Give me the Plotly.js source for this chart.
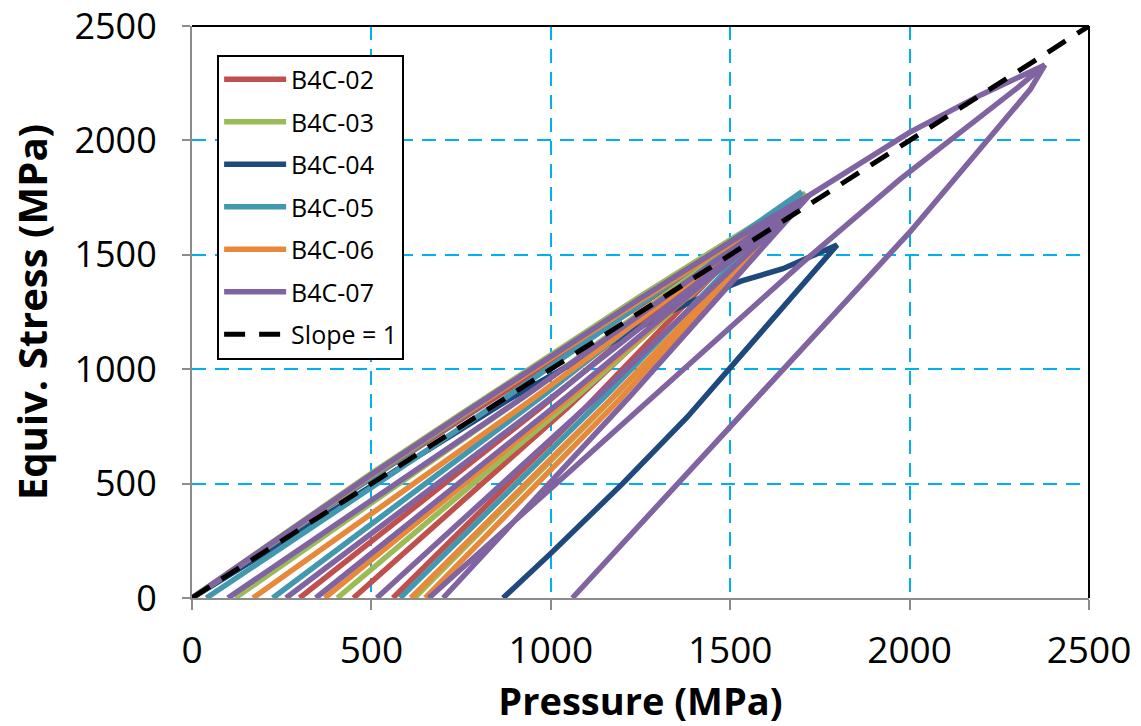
<!DOCTYPE html>
<html>
<head>
<meta charset="utf-8">
<script src="https://cdn.plot.ly/plotly-3.0.1.min.js"></script>
<style>
  html, body { margin: 0; padding: 0; background: #ffffff; }
  #chart { width: 1141px; height: 726px; }
</style>
</head>
<body>
<div id="chart"></div>
<script>
// ---- Data ----
const seriesNames = ["B4C-02", "B4C-03", "B4C-04", "B4C-05", "B4C-06", "B4C-07"];

// B4C-02: loading to peak, then unload/reload branches
const b4c02_x = [0, 250, 500, 750, 1000, 1250, 1450, 1600, 970, 300, 970, 1600, 1045, 450, 1045, 1600, 1095, 560];
const b4c02_y = [0, 265, 525, 780, 1030, 1280, 1490, 1650, 830, 0, 830, 1650, 830, 0, 830, 1650, 830, 0];

// B4C-03
const b4c03_x = [0, 250, 500, 750, 1000, 1250, 1500, 1710, 930, 120, 930, 1710, 1075, 405, 1075, 1710, 1180, 620];
const b4c03_y = [0, 275, 545, 805, 1065, 1320, 1565, 1770, 885, 0, 885, 1770, 885, 0, 885, 1770, 885, 0];

// B4C-04: single loading path with softening, then unloading
const b4c04_x = [0, 300, 600, 886, 1100, 1304, 1400, 1530, 1647, 1798, 1380, 1200, 1000, 867];
const b4c04_y = [0, 290, 590, 870, 1060, 1230, 1300, 1385, 1439, 1543, 790, 500, 195, 0];

// B4C-05
const b4c05_x = [0, 250, 500, 750, 1000, 1250, 1500, 1700, 885, 40, 885, 1700, 980, 225, 980, 1700, 1155, 580];
const b4c05_y = [0, 265, 530, 790, 1050, 1305, 1555, 1775, 887, 0, 887, 1775, 887, 0, 887, 1775, 887, 0];

// B4C-06
const b4c06_x = [0, 250, 500, 750, 1000, 1250, 1500, 1690, 945, 170, 945, 1690, 1045, 370, 1045, 1690, 1165, 610, 1165, 1690, 1190, 650];
const b4c06_y = [0, 270, 535, 795, 1050, 1300, 1545, 1730, 865, 0, 865, 1730, 865, 0, 865, 1730, 865, 0, 865, 1730, 865, 0];

// B4C-07: cycles to ~1750, final loading to ~2330, two unloading branches
const b4c07_x = [0, 250, 500, 750, 1000, 1250, 1500, 1720, 925, 100, 925, 1720, 1005, 262, 1005, 1720, 1045, 345, 1045, 1720, 1130, 515, 1130, 1720, 1220, 700, 1220, 1720,
                 2000, 2200, 2377, 2308, 1973, 1695, 1332, 858, 660, null,
                 1060, 1500, 1834, 2001, 2336, 2377];
const b4c07_y = [0, 272, 540, 800, 1058, 1310, 1555, 1760, 880, 0, 880, 1760, 880, 0, 880, 1760, 880, 0, 880, 1760, 880, 0, 880, 1760, 880, 0, 880, 1760,
                 2035, 2200, 2330, 2239, 1830, 1457, 948, 283, 0, null,
                 0, 745, 1310, 1600, 2222, 2330];

// Slope = 1 reference line
const slope_x = [0, 2500];
const slope_y = [0, 2500];

const tickVals = [0, 500, 1000, 1500, 2000, 2500];
const tickText = ["0", "500", "1000", "1500", "2000", "2500"];

// ---- Styling ----
const colors = ["#C0504D", "#9BBB59", "#1F497D", "#4198AF", "#E8883A", "#8064A2"];
const xs = [b4c02_x, b4c03_x, b4c04_x, b4c05_x, b4c06_x, b4c07_x];
const ys = [b4c02_y, b4c03_y, b4c04_y, b4c05_y, b4c06_y, b4c07_y];

const traces = seriesNames.map((name, i) => ({
  x: xs[i], y: ys[i], name: name, type: "scatter", mode: "lines",
  line: { color: colors[i], width: 5.5 },
  connectgaps: false, legendgroup: "g" + i
}));
traces.push({
  x: slope_x, y: slope_y, name: "Slope = 1", type: "scatter", mode: "lines",
  line: { color: "#000000", width: 5, dash: "21px,14px" }, legendgroup: "g6"
});

const gridStyle = { gridcolor: "#00B0F0", gridwidth: 2, griddash: "14px,9px" };
const font = "Open Sans, DejaVu Sans, sans-serif";

const layout = {
  width: 1141, height: 726,
  margin: { l: 192, r: 52, t: 26, b: 128 },
  paper_bgcolor: "#ffffff", plot_bgcolor: "#ffffff",
  showlegend: true,
  xaxis: Object.assign({
    range: [0, 2500], tickvals: tickVals, ticktext: tickText,
    showline: true, linecolor: "#8C8C8C", linewidth: 2,
    ticks: "outside", ticklen: 10, tickwidth: 2, tickcolor: "#8C8C8C",
    ticklabelstandoff: 9, ticklabeloverflow: "allow",
    zeroline: false, tickfont: { family: font, size: 37, color: "#000" },
    title: { text: "Pressure (MPa)", font: { family: font, size: 38, color: "#000", weight: "bold" }, standoff: 8 }
  }, gridStyle),
  yaxis: Object.assign({
    range: [0, 2500], tickvals: tickVals, ticktext: tickText,
    showline: true, linecolor: "#8C8C8C", linewidth: 2,
    ticks: "outside", ticklen: 8, tickwidth: 2, tickcolor: "#8C8C8C",
    ticklabelstandoff: 18, ticklabeloverflow: "allow",
    zeroline: false, tickfont: { family: font, size: 36, color: "#000" },
    title: { text: "Equiv. Stress (MPa)", font: { family: font, size: 40, color: "#000", weight: "bold" }, standoff: 14 }
  }, gridStyle),
  legend: {
    x: 0.028, y: 0.95, xanchor: "left", yanchor: "top",
    bgcolor: "#ffffff", bordercolor: "#000000", borderwidth: 2,
    font: { family: font, size: 25, color: "#000" },
    traceorder: "grouped", tracegroupgap: 7, itemwidth: 62
  },
  shapes: [
    { type: "line", xref: "paper", yref: "paper", x0: 0, y0: 1, x1: 1, y1: 1, line: { color: "#000", width: 2 }, layer: "above" },
    { type: "line", xref: "paper", yref: "paper", x0: 1, y0: 0, x1: 1, y1: 1, line: { color: "#000", width: 2 }, layer: "above" }
  ]
};

Plotly.newPlot("chart", traces, layout, { displayModeBar: false, staticPlot: true });
</script>
</body>
</html>
